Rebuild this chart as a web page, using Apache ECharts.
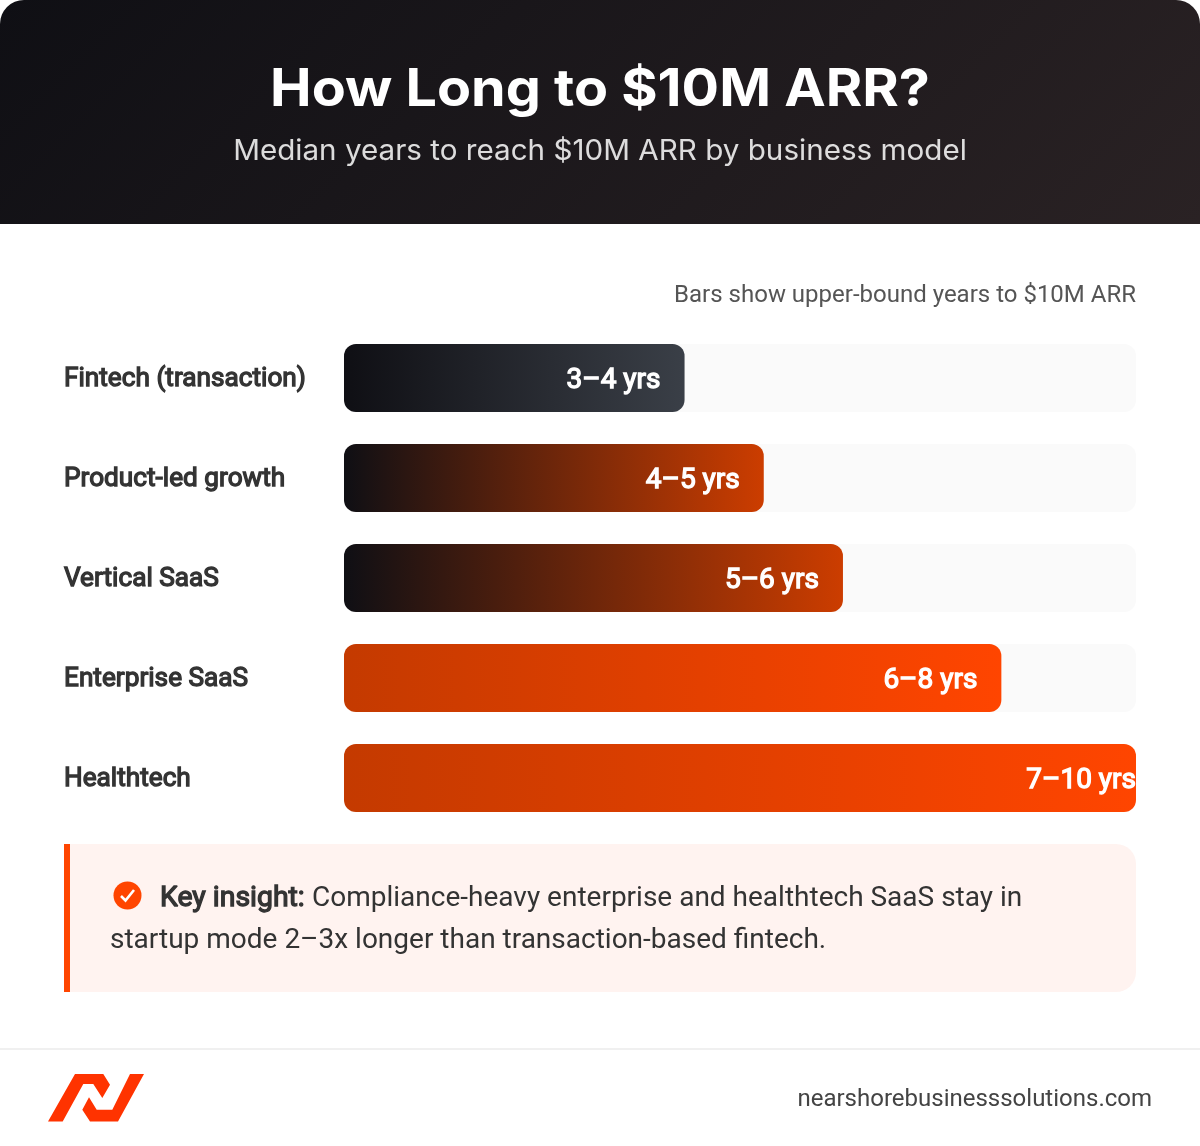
<!DOCTYPE html>
<html>
<head>
<meta charset="utf-8">
<title>How Long to $10M ARR?</title>
<style>html,body{margin:0;padding:0;background:#fff}#chart{width:1200px;height:1146px}</style>
<script src="https://cdn.jsdelivr.net/npm/echarts@6/dist/echarts.min.js"></script>
</head>
<body>
<div id="chart"></div>
<script>
// Upper bound of each business model's range, in years
const categories = ['Fintech (transaction)', 'Product-led growth', 'Vertical SaaS', 'Enterprise SaaS', 'Healthtech'];
const upperYears = [4, 5, 6, 8, 10];
const rangeLabels = ['3–4 yrs', '4–5 yrs', '5–6 yrs', '6–8 yrs', '7–10 yrs'];
const gradientStops = [
  ['#0f0f14', '#3a3f47'],
  ['#0f0f14', '#cc3d00'],
  ['#0f0f14', '#cc3d00'],
  ['#c43a00', '#ff4500'],
  ['#c43a00', '#ff4500']
];
const labelInset = [24, 24, 24, 24, 0];

const ROBOTO = 'Roboto, sans-serif';
const HEADING = 'Inter, sans-serif';

const chart = echarts.init(document.getElementById('chart'), null, { renderer: 'canvas' });

chart.setOption({
  backgroundColor: '#ffffff',
  animation: false,
  grid: { left: 344, top: 328, width: 792, height: 500, containLabel: false },
  // The scale runs past the last range, so the longest bar fills the whole track
  xAxis: { type: 'value', min: -0.3, max: 9.7, startValue: -0.3, show: false },
  yAxis: {
    type: 'category',
    inverse: true,
    data: categories,
    axisLine: { show: false },
    axisTick: { show: false },
    splitLine: { show: false },
    axisLabel: {
      align: 'left',
      verticalAlign: 'top',
      lineHeight: 2,
      margin: 280,
      color: '#333333',
      fontFamily: ROBOTO,
      fontWeight: 400,
      fontSize: 26.2,
      textBorderColor: '#333333',
      textBorderWidth: 1.3
    }
  },
  series: [{
    type: 'bar',
    barWidth: 68,
    showBackground: true,
    backgroundStyle: { color: '#fafafa', borderRadius: 12 },
    data: upperYears.map((value, i) => ({
      value,
      itemStyle: {
        borderRadius: 12,
        color: new echarts.graphic.LinearGradient(0, 0, 1, 0, [
          { offset: 0, color: gradientStops[i][0] },
          { offset: 1, color: gradientStops[i][1] }
        ])
      },
      label: {
        show: true,
        position: 'insideRight',
        distance: labelInset[i],
        offset: [0, 3],
        formatter: rangeLabels[i],
        color: '#ffffff',
        fontFamily: ROBOTO,
        fontWeight: 400,
        fontSize: 28,
        textBorderColor: '#ffffff',
        textBorderWidth: 1.3
      }
    }))
  }],
  graphic: { elements: [
    // Header band with a 135-degree sweep
    { type: 'rect', silent: true, z: -1,
      shape: { x: 0, y: 0, width: 1200, height: 224, r: [24, 24, 0, 0] },
      style: { fill: new echarts.graphic.LinearGradient(244, -244, 956, 468, [
        { offset: 0, color: '#0f0f14' }, { offset: 1, color: '#2a2224' }
      ], true) } },
    { type: 'text', silent: true, x: 600, y: 90, scaleX: 1.07,
      style: { text: 'How Long to $10M ARR?', fill: '#ffffff', font: '700 52px ' + HEADING, align: 'center', verticalAlign: 'middle' } },
    { type: 'text', silent: true, x: 600, y: 152, scaleX: 1.058,
      style: { text: 'Median years to reach $10M ARR by business model', fill: 'rgba(255,255,255,0.85)', font: '400 28px ' + HEADING, align: 'center', verticalAlign: 'middle' } },
    // Scale note
    { type: 'text', silent: true, x: 1136, y: 296,
      style: { text: 'Bars show upper-bound years to $10M ARR', fill: '#555555', font: '400 24px ' + ROBOTO, align: 'right', verticalAlign: 'middle' } },
    // Insight callout
    { type: 'rect', silent: true,
      shape: { x: 64, y: 844, width: 1072, height: 148, r: [0, 20, 20, 0] },
      style: { fill: '#fff3f0' } },
    { type: 'rect', silent: true,
      shape: { x: 64, y: 844, width: 6, height: 148 },
      style: { fill: '#ff4500' } },
    { type: 'circle', silent: true,
      shape: { cx: 127.5, cy: 895.5, r: 14 },
      style: { fill: '#ff4500' } },
    { type: 'polyline', silent: true,
      shape: { points: [[121, 896], [125.5, 900.5], [134, 890]] },
      style: { stroke: '#ffffff', lineWidth: 2.6, fill: null } },
    { type: 'text', silent: true, x: 160, y: 899,
      style: { text: 'Key insight:', fill: '#333333', stroke: '#333333', lineWidth: 1.3, font: '400 28.4px ' + ROBOTO, verticalAlign: 'middle' } },
    { type: 'text', silent: true, x: 312, y: 899,
      style: { text: 'Compliance-heavy enterprise and healthtech SaaS stay in', fill: '#333333', font: '400 28px ' + ROBOTO, verticalAlign: 'middle' } },
    { type: 'text', silent: true, x: 110, y: 941,
      style: { text: 'startup mode 2–3x longer than transaction-based fintech.', fill: '#333333', font: '400 28px ' + ROBOTO, verticalAlign: 'middle' } },
    // Footer
    { type: 'rect', silent: true,
      shape: { x: 0, y: 1048, width: 1200, height: 2 },
      style: { fill: '#f0f0f0' } },
    { type: 'polygon', silent: true,
      shape: { points: [[48, 1121.5], [75, 1074], [103.3, 1074], [110, 1084.7], [102.3, 1098], [93.3, 1084], [83.3, 1084], [62.7, 1121.5]] },
      style: { fill: '#ff3300' } },
    { type: 'polygon', silent: true,
      shape: { points: [[144, 1074], [130, 1074], [112.3, 1109.7], [96.7, 1109.7], [89, 1097.3], [82.3, 1109.7], [90, 1121.5], [118, 1121.5]] },
      style: { fill: '#ff3300' } },
    { type: 'text', silent: true, x: 1152, y: 1100,
      style: { text: 'nearshorebusinesssolutions.com', fill: '#444444', font: '400 24px ' + ROBOTO, align: 'right', verticalAlign: 'middle' } }
  ] }
});
</script>
</body>
</html>
